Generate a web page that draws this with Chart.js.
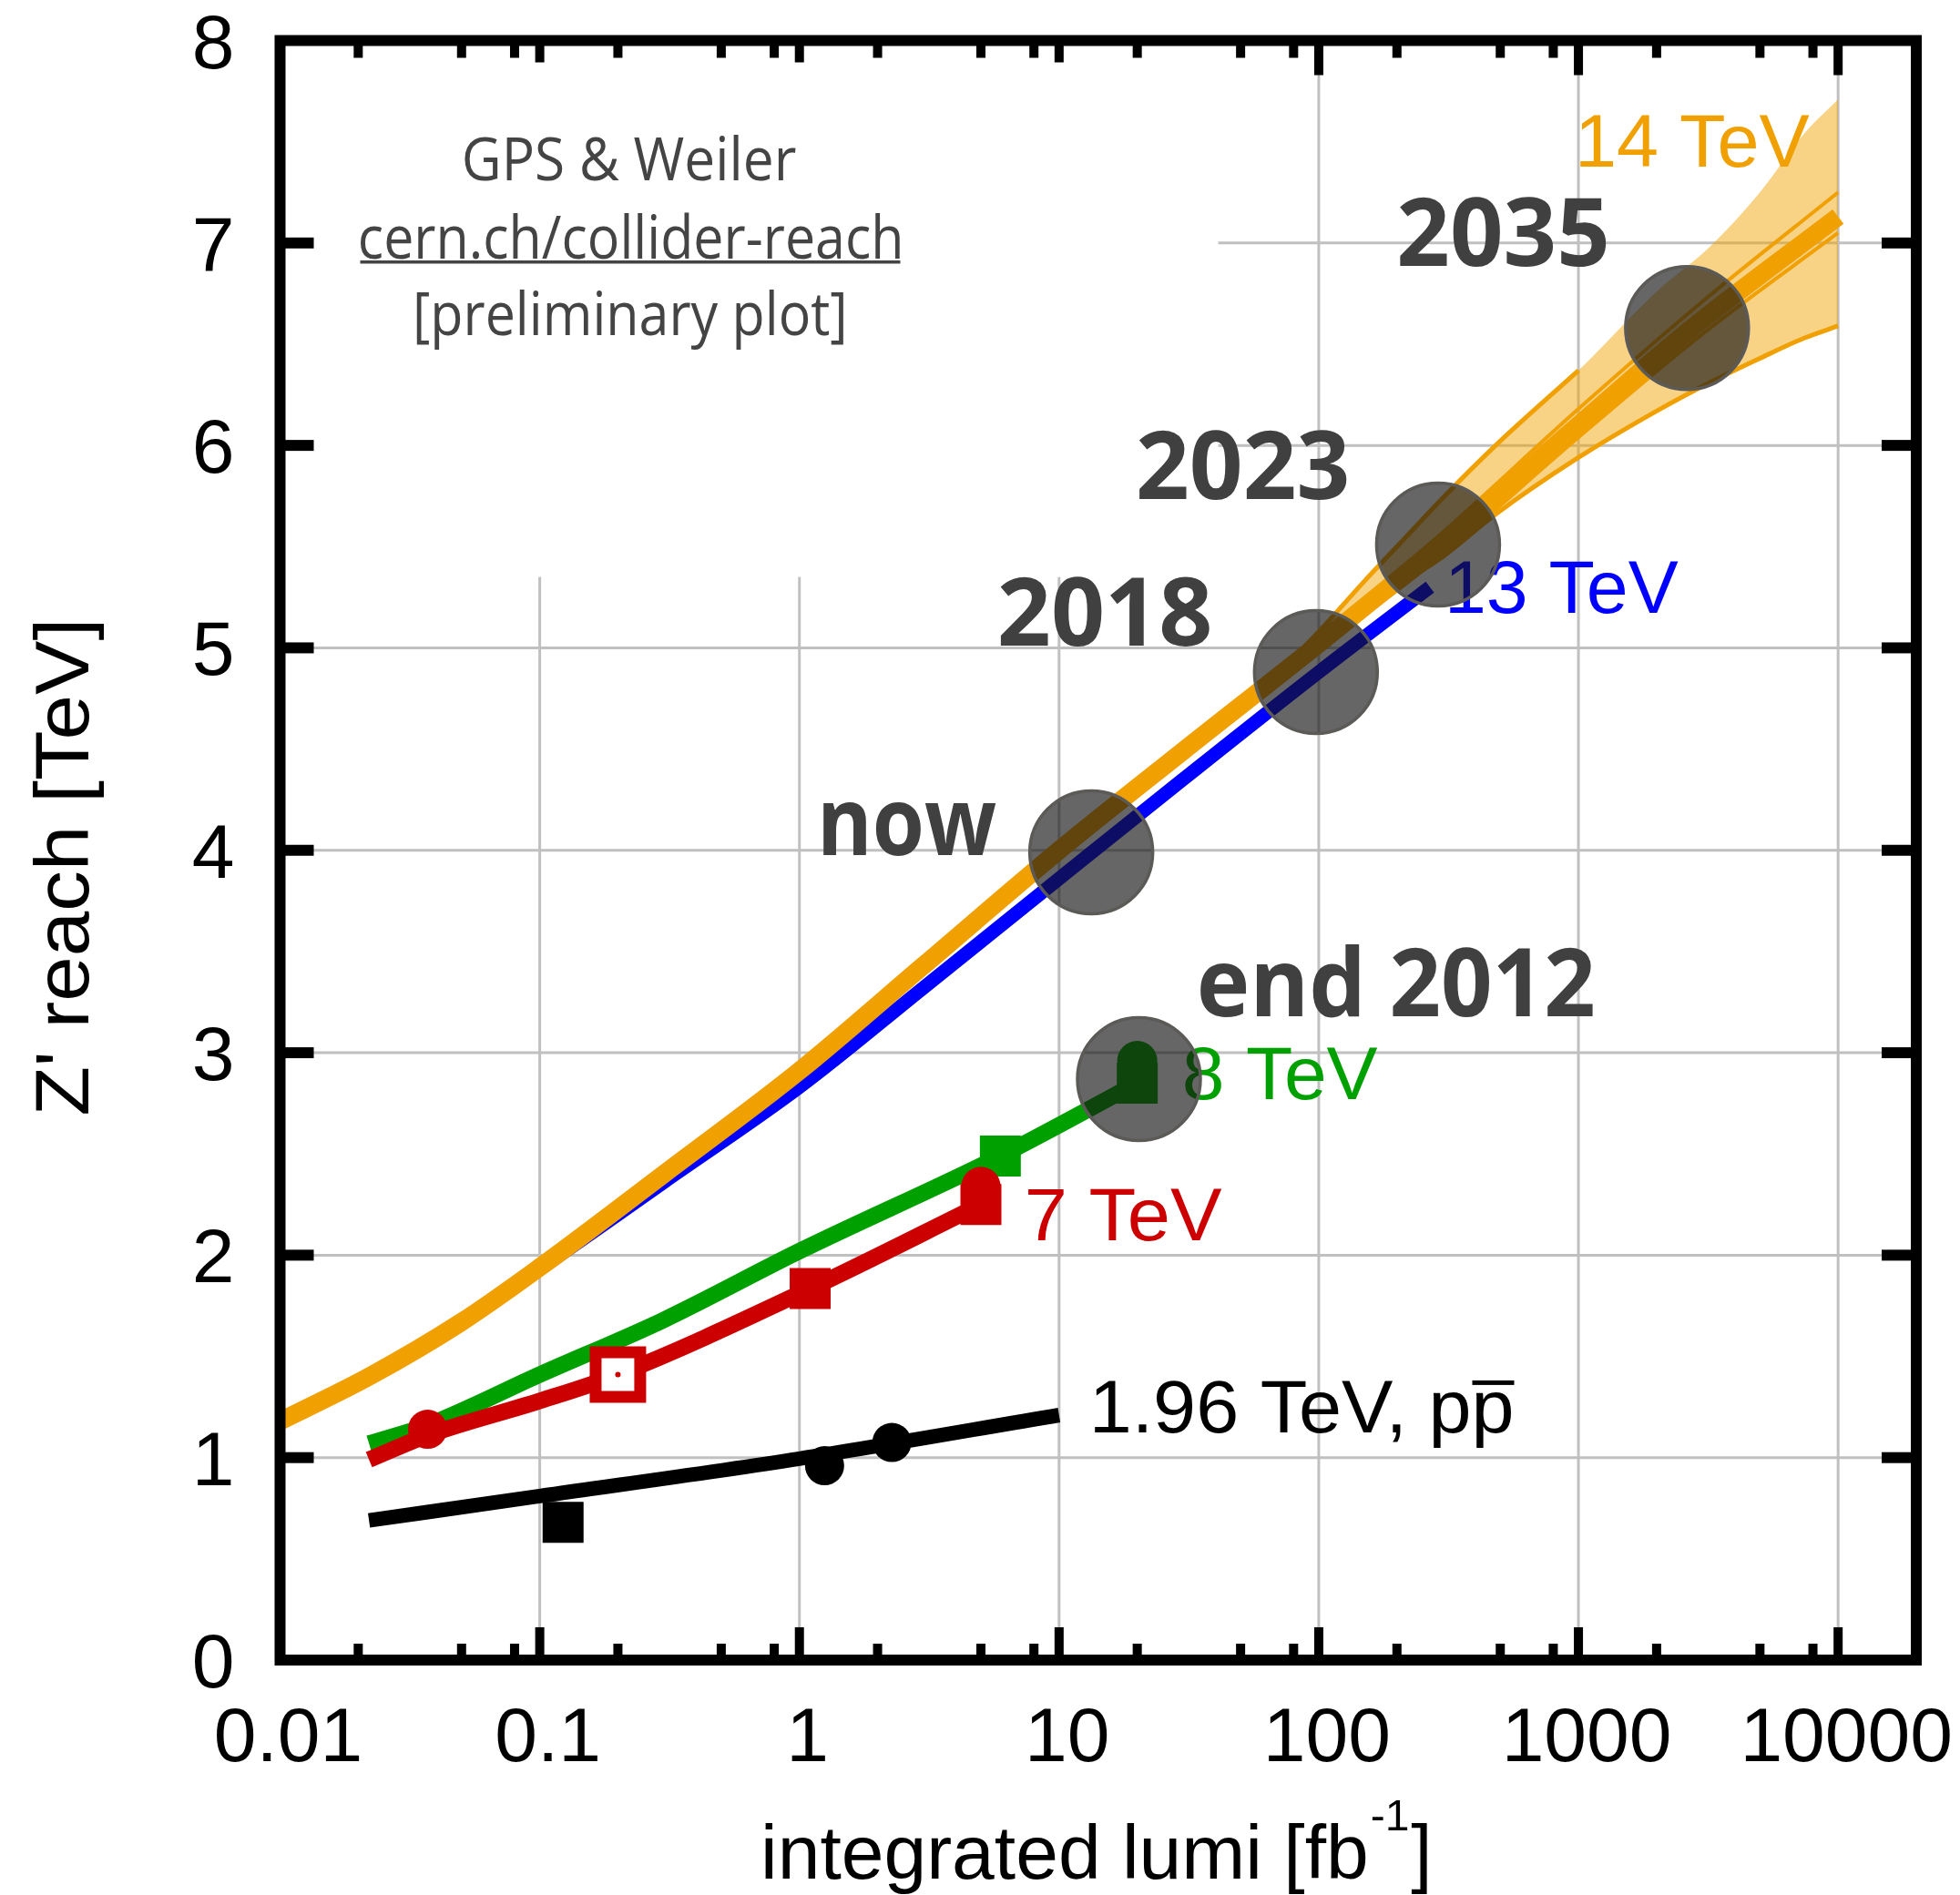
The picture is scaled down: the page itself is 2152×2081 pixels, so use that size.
<!DOCTYPE html>
<html>
<head>
<meta charset="utf-8">
<title>Z' reach vs integrated lumi</title>
<script src="https://cdn.jsdelivr.net/npm/chart.js@4.4.1/dist/chart.umd.min.js"></script>
<style>
  html, body { margin: 0; padding: 0; background: #fff; overflow: hidden; }
  #wrap { width: 2152px; height: 2081px; }
  canvas { display: block; }
</style>
</head>
<body>
<div id="wrap"><canvas id="reach" width="2152" height="2081"></canvas></div>
<script>
// ---- values: x = integrated lumi [fb^-1], y = Z' reach [TeV]

// 14 TeV central curve
const lumi14 = [0.01, 0.022, 0.05, 0.1, 0.3, 1, 3, 10, 30, 100, 300, 1000, 2620, 10000];
const reach14 = [1.18, 1.40, 1.67, 1.94, 2.40, 2.91, 3.43, 4.00, 4.49, 5.02, 5.52, 6.10, 6.56, 7.13];
// 14 TeV uncertainty band
const band14Lumi = [60, 100, 150, 200, 300, 480, 1000, 2000, 3200, 5000, 7400, 10000];
const band14Low = [4.79, 4.98, 5.17, 5.30, 5.45, 5.66, 5.94, 6.17, 6.31, 6.43, 6.53, 6.59];
const band14High = [4.79, 5.08, 5.33, 5.50, 5.74, 6.00, 6.37, 6.76, 6.98, 7.25, 7.54, 7.71];
// thin variations next to the central 14 TeV curve
const thin14Lumi = [100, 300, 1000, 3000, 10000];
const thin14Up = [5.05, 5.57, 6.18, 6.71, 7.25];
const thin14Down = [4.99, 5.46, 6.04, 6.55, 7.05];

// 13 TeV
const lumi13 = [0.022, 0.05, 0.1, 0.3, 1, 3, 10, 30, 100, 268];
const reach13 = [1.40, 1.665, 1.93, 2.36, 2.83, 3.32, 3.86, 4.35, 4.88, 5.30];

// 8 TeV
const lumi8 = [0.022, 0.037, 0.1, 0.3, 1, 5.94, 20];
const reach8 = [1.07, 1.16, 1.41, 1.68, 2.02, 2.49, 2.85];
const lumi8Squares = [5.94, 20];
const reach8Squares = [2.49, 2.85];
const lumi8Circles = [20];
const reach8Circles = [2.96];

// 7 TeV
const lumi7 = [0.022, 0.037, 0.1, 0.2, 1.1, 5];
const reach7 = [0.99, 1.11, 1.28, 1.41, 1.835, 2.25];
const lumi7Circles = [0.037, 5];
const reach7Circles = [1.14, 2.34];
const lumi7Squares = [1.1, 5];
const reach7Squares = [1.835, 2.25];
const lumi7Open = [0.2];
const reach7Open = [1.41];

// 1.96 TeV (Tevatron)
const lumiTev = [0.022, 0.1, 1, 10];
const reachTev = [0.69, 0.81, 0.995, 1.21];
const lumiTevSquares = [0.123];
const reachTevSquares = [0.68];
const lumiTevCircles = [1.25, 2.27];
const reachTevCircles = [0.96, 1.075];

// milestones
const milestoneNames = ['end 2012', 'now', '2018', '2023', '2035'];
const milestoneLumi = [20.3, 13.3, 97.5, 288, 2620];
const milestoneReach = [2.87, 3.99, 4.88, 5.51, 6.58];

// axes
const xTickValues = [0.01, 0.1, 1, 10, 100, 1000, 10000];
const xTickLabels = ['0.01', '0.1', '1', '10', '100', '1000', '10000'];
const xMinorMantissa = [2, 5, 8];
const yTickValues = [0, 1, 2, 3, 4, 5, 6, 7, 8];
const yTickLabels = ['0', '1', '2', '3', '4', '5', '6', '7', '8'];

const seriesNames = ['14 TeV', '13 TeV', '8 TeV', '7 TeV', '1.96 TeV, pp'];
const creditLines = ['GPS & Weiler', 'cern.ch/collider-reach', '[preliminary plot]'];

// ---- styling
const ORANGE = '#f0a000', BLUE = '#0000ff', GREEN = '#00a000', RED = '#cc0000';
const GRID = '#c0c0c0', TEXT_DARK = '#404040';
const SANS = '"Liberation Sans", Arial, Helvetica, sans-serif';
const HUMAN = '"Open Sans", "Noto Sans", sans-serif';

// plot frame wanted on the page (px)
const frame = { left: 307.5, top: 44.5, right: 2104, bottom: 1823 };

// where the series names sit (ink left, baseline) in data units, and their ink width
const seriesLabelPos = [
  { lumi: 1016, reach: 7.377, color: ORANGE, width: 252 },
  { lumi: 320, reach: 5.173, color: BLUE, width: 251 },
  { lumi: 30.5, reach: 2.771, color: GREEN, width: 212 },
  { lumi: 7.6, reach: 2.074, color: RED, width: 213 },
  { lumi: 13.7, reach: 1.125, color: '#000', width: 458 }
];
// milestone text relative to circle centre (px): ink left, baseline, ink width
const milestoneLabelPos = [
  { dx: 67, dy: -69, width: 432 },
  { dx: -294, dy: 3, width: 189 },
  { dx: -347, dy: -29, width: 230 },
  { dx: -329, dy: -50, width: 229 },
  { dx: -316, dy: -68, width: 227 }
];
// the white box behind the credit text hides the grid up to here
const creditBox = { lumi: 41, reach: 5.35 };

const pts = (xs, ys) => xs.map((x, i) => ({ x: x, y: ys[i] }));

function curve(label, xs, ys, color, width, extra) {
  return Object.assign({
    label: label, data: pts(xs, ys), showLine: true, fill: false,
    borderColor: color, borderWidth: width, pointRadius: 0,
    borderJoinStyle: 'round', cubicInterpolationMode: 'monotone'
  }, extra || {});
}

function marks(label, xs, ys, style, radius, color, extra) {
  return Object.assign({
    label: label, data: pts(xs, ys), showLine: false,
    pointStyle: style, pointRadius: radius,
    pointBackgroundColor: color, pointBorderWidth: 0, pointBorderColor: color
  }, extra || {});
}

// datasets listed bottom layer first
const layers = [
  curve('14 TeV band low', band14Lumi, band14Low, ORANGE, 5),
  curve('14 TeV band high', band14Lumi, band14High, 'rgba(0,0,0,0)', 1,
        { fill: '-1', backgroundColor: 'rgba(240,160,0,0.48)' }),
  curve('14 TeV band edge', band14Lumi.slice(0, 7), band14High.slice(0, 7), ORANGE, 5),
  curve('13 TeV', lumi13, reach13, BLUE, 15),
  curve('14 TeV up', thin14Lumi, thin14Up, ORANGE, 4),
  curve('14 TeV down', thin14Lumi, thin14Down, ORANGE, 4),
  curve('14 TeV', lumi14, reach14, ORANGE, 20),
  curve('8 TeV', lumi8, reach8, GREEN, 18),
  marks('8 TeV squares', lumi8Squares, reach8Squares, 'rect', 31.8, GREEN),
  marks('8 TeV circles', lumi8Circles, reach8Circles, 'circle', 22, GREEN),
  curve('7 TeV', lumi7, reach7, RED, 18),
  marks('7 TeV squares', lumi7Squares, reach7Squares, 'rect', 31.8, RED),
  marks('7 TeV open', lumi7Open, reach7Open, 'rect', 34.6, '#fff',
        { pointBorderWidth: 13, pointBorderColor: RED }),
  marks('7 TeV open dot', lumi7Open, reach7Open, 'circle', 3, RED),
  marks('7 TeV circles', lumi7Circles, reach7Circles, 'circle', 21.5, RED),
  curve('1.96 TeV', lumiTev, reachTev, '#000', 16),
  marks('1.96 TeV squares', lumiTevSquares, reachTevSquares, 'rect', 31.8, '#000'),
  marks('1.96 TeV circles', lumiTevCircles, reachTevCircles, 'circle', 21.5, '#000'),
  marks('milestones', milestoneLumi, milestoneReach, 'circle', 67.5, 'rgba(20,20,20,0.65)',
        { pointBorderWidth: 3.5, pointBorderColor: '#5c5a57' })
];
layers.forEach((d, i) => { d.order = layers.length - i; });
const milestoneIndex = layers.length - 1;

// draw text so its ink box starts at `left` (or is centred) and is `width` wide
function inkText(ctx, str, font, color, x, baseline, width, align) {
  ctx.save();
  ctx.font = font;
  ctx.fillStyle = color;
  ctx.textAlign = 'left';
  ctx.textBaseline = 'alphabetic';
  const m = ctx.measureText(str);
  const ink = m.actualBoundingBoxLeft + m.actualBoundingBoxRight;
  const sx = width ? width / ink : 1;
  const w = ink * sx;
  const left = align === 'center' ? x - w / 2 : (align === 'right' ? x - w : x);
  ctx.translate(left, baseline);
  ctx.scale(sx, 1);
  ctx.fillText(str, m.actualBoundingBoxLeft, 0);
  ctx.restore();
  return { left: left, right: left + w, origin: left + m.actualBoundingBoxLeft * sx, sx: sx };
}

const decorations = {
  id: 'decorations',
  beforeDatasetsDraw(chart) {
    const { ctx, chartArea: a, scales: { x, y } } = chart;
    ctx.save();
    // grid at the decades and whole TeV values
    ctx.strokeStyle = GRID;
    ctx.lineWidth = 3;
    ctx.beginPath();
    xTickValues.slice(1).forEach(v => {
      const px = x.getPixelForValue(v);
      ctx.moveTo(px, a.top); ctx.lineTo(px, a.bottom);
    });
    yTickValues.slice(1, -1).forEach(v => {
      const py = y.getPixelForValue(v);
      ctx.moveTo(a.left, py); ctx.lineTo(a.right, py);
    });
    ctx.stroke();
    // white box behind the credit text
    ctx.fillStyle = '#fff';
    ctx.fillRect(a.left, a.top, x.getPixelForValue(creditBox.lumi) - a.left,
                 y.getPixelForValue(creditBox.reach) - a.top);
    ctx.restore();

    // credit block
    const cx = a.left + 384.5;
    const f = '66px ' + HUMAN;
    inkText(ctx, creditLines[0], f, '#444', cx, a.top + 153.5, 363, 'center');
    const c = inkText(ctx, creditLines[1], f, '#444', cx, a.top + 239.5, 593, 'center');
    ctx.fillStyle = '#444';
    ctx.fillRect(c.left, a.top + 241.5, c.right - c.left, 3.5);
    inkText(ctx, creditLines[2], f, '#444', cx, a.top + 323.5, 469, 'center');
  },
  beforeDatasetDraw(chart, args) {
    if (args.index !== milestoneIndex) return;
    const { ctx, scales: { x, y } } = chart;
    const f = '82px ' + SANS;
    seriesNames.forEach((name, i) => {
      const p = seriesLabelPos[i];
      const bx = x.getPixelForValue(p.lumi), by = y.getPixelForValue(p.reach);
      const t = inkText(ctx, name, f, p.color, bx, by, p.width);
      if (i === seriesNames.length - 1) {
        // anti-proton bar over the last p
        ctx.save();
        ctx.font = f;
        const pre = ctx.measureText(name.slice(0, -1)).width;
        const pw = ctx.measureText('p').width;
        ctx.fillStyle = p.color;
        ctx.fillRect(t.origin + pre * t.sx + 1, by - 57, pw * t.sx - 1, 5);
        ctx.restore();
      }
    });
  },
  afterDatasetsDraw(chart) {
    const { ctx, scales: { x, y } } = chart;
    const f = 'bold 104px ' + HUMAN;
    milestoneNames.forEach((name, i) => {
      const p = milestoneLabelPos[i];
      const cx = x.getPixelForValue(milestoneLumi[i]);
      const cy = y.getPixelForValue(milestoneReach[i]);
      inkText(ctx, name, f, TEXT_DARK, cx + p.dx, cy + p.dy, p.width);
    });
  },
  afterDraw(chart) {
    const { ctx, chartArea: a, scales: { x, y } } = chart;
    ctx.save();
    ctx.fillStyle = '#000';

    // x ticks (bottom and top, pointing inwards)
    xTickValues.forEach((v, i) => {
      const px = x.getPixelForValue(v);
      if (i > 0) {
        ctx.fillRect(px - 5, a.bottom - 36, 10, 36);
        ctx.fillRect(px - 5, a.top, 10, v >= 100 ? 38 : 24);
      }
      if (i < xTickValues.length - 1) {
        xMinorMantissa.forEach(mant => {
          const mx = x.getPixelForValue(v * mant);
          ctx.fillRect(mx - 5, a.bottom - 18, 10, 18);
          ctx.fillRect(mx - 5, a.top, 10, 19);
        });
      }
    });
    // y ticks (left and right)
    yTickValues.forEach(v => {
      if (v === 0 || v === 8) return;
      const py = y.getPixelForValue(v);
      ctx.fillRect(a.left, py - 6, 37, 12);
      ctx.fillRect(a.right - 38, py - 6, 38, 12);
    });

    // frame
    ctx.lineWidth = 12;
    ctx.strokeStyle = '#000';
    ctx.strokeRect(a.left, a.top, a.right - a.left, a.bottom - a.top);

    // tick labels
    ctx.font = '84px ' + SANS;
    ctx.textBaseline = 'alphabetic';
    ctx.textAlign = 'right';
    yTickValues.forEach((v, i) => {
      ctx.fillText(yTickLabels[i], a.left - 50, y.getPixelForValue(v) + 30);
    });
    ctx.textAlign = 'center';
    xTickValues.forEach((v, i) => {
      ctx.fillText(xTickLabels[i], x.getPixelForValue(v) + 9, a.bottom + 111);
    });

    // x axis title with superscript
    ctx.textAlign = 'left';
    const main = 'integrated lumi [fb';
    const m = ctx.measureText(main);
    const x0 = 840 + m.actualBoundingBoxLeft;
    ctx.fillText(main, x0, 2063);
    let cur = x0 + m.width + 2;
    ctx.font = '48px ' + SANS;
    ctx.fillText('-1', cur, 2010);
    cur += ctx.measureText('-1').width + 2;
    ctx.font = '84px ' + SANS;
    ctx.fillText(']', cur, 2063);

    // y axis title, rotated
    ctx.translate(97, 954);
    ctx.rotate(-Math.PI / 2);
    inkText(ctx, "Z' reach [TeV]", '84px ' + SANS, '#000', 0, 0, 539, 'center');
    ctx.restore();
  }
};

const chartOptions = {
  responsive: false,
  devicePixelRatio: 1,
  animation: false,
  events: [],
  layout: {
    autoPadding: false,
    padding: { left: frame.left, top: frame.top, right: 2152 - frame.right, bottom: 2081 - frame.bottom }
  },
  plugins: { legend: { display: false }, tooltip: { enabled: false }, title: { display: false } },
  scales: {
    x: { type: 'logarithmic', min: 0.01, max: 20000, display: false },
    y: { type: 'linear', min: 0, max: 8, display: false }
  }
};

const chart = new Chart(document.getElementById('reach'), {
  type: 'scatter',
  data: { datasets: layers },
  options: chartOptions,
  plugins: [decorations]
});

// if the layout left the plot area somewhere else, move it to the wanted frame
const area = chart.chartArea;
const off = {
  left: frame.left - area.left, top: frame.top - area.top,
  right: area.right - frame.right, bottom: area.bottom - frame.bottom
};
if (Math.abs(off.left) + Math.abs(off.top) + Math.abs(off.right) + Math.abs(off.bottom) > 0.5) {
  const p = chartOptions.layout.padding;
  chart.options.layout.padding = {
    left: p.left + off.left, top: p.top + off.top,
    right: p.right + off.right, bottom: p.bottom + off.bottom
  };
  chart.update();
}
</script>
</body>
</html>
